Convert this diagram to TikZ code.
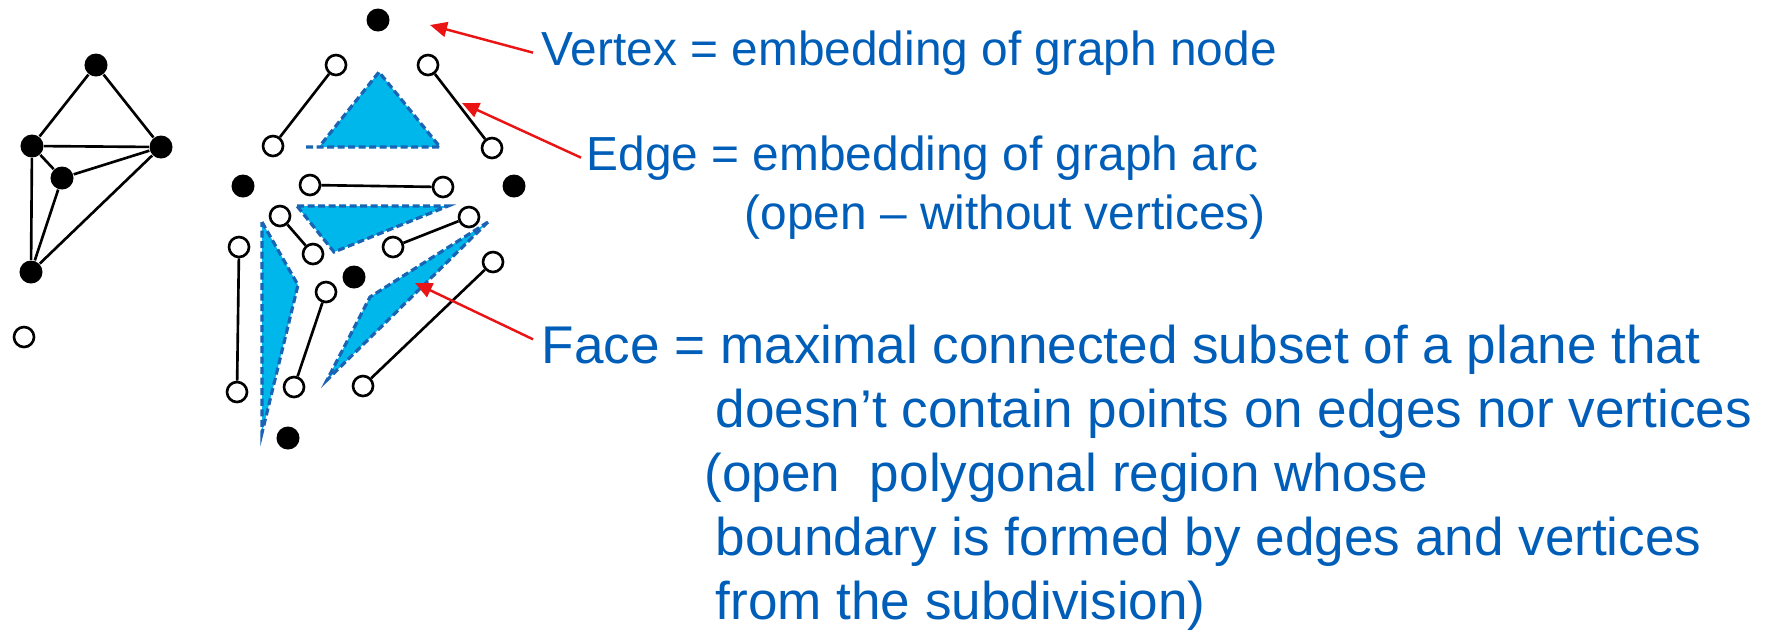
\documentclass[tikz,border=0pt]{standalone}
\usepackage{fontspec}
\setmainfont{Liberation Sans}
\usetikzlibrary{arrows.meta,positioning}
\definecolor{txtBlue}{RGB}{0,94,184}
\definecolor{faceCyan}{RGB}{0,183,235}
\definecolor{faceEdge}{RGB}{25,100,180}
\definecolor{ptrRed}{RGB}{235,20,20}

\begin{document}
\begin{tikzpicture}[x=0.01cm,y=-0.01cm,
  vfull/.style={circle,fill=black,inner sep=0pt,minimum size=2.3mm},
  vopen/.style={circle,draw=black,fill=white,line width=0.75pt,inner sep=0pt,minimum size=2.0mm},
  arc/.style={black,line width=0.75pt},
  face/.style={fill=faceCyan,draw=faceEdge,line width=0.9pt,dash pattern=on 0.7mm off 0.35mm},
  ptr/.style={-{Triangle[length=1.7mm,width=1.5mm]},ptrRed,line width=0.7pt},
  lblS/.style={text=txtBlue,font=\fontsize{13.6}{16.8}\selectfont,inner sep=0pt,anchor=base west},
  lblL/.style={text=txtBlue,font=\fontsize{15.1}{18.2}\selectfont,inner sep=0pt,anchor=base west}]
  \useasboundingbox (0,0) rectangle (1774,629);

  % planar graph
  \node[vfull] (gt) at (96,65) {};
  \node[vfull] (gl) at (32,146) {};
  \node[vfull] (gr) at (161,147) {};
  \node[vfull] (gm) at (62,178) {};
  \node[vfull] (gb) at (31,272) {};
  \node[vopen] (go) at (24,337) {};
  \draw[arc] (gt) -- (gl) (gt) -- (gr) (gl) -- (gr) (gl) -- (gm) (gm) -- (gr)
             (gl) -- (gb) (gm) -- (gb) (gr) -- (gb);

  % faces
  \fill[faceCyan] (319,147) -- (379,72) -- (440,147) -- cycle;
  \draw[face,fill=none] (306,147) -- (440,147) -- (379,72) -- (319,147);
  \filldraw[face] (297,206) -- (448,206) -- (334,252) -- cycle;
  \filldraw[face] (262,222) -- (298,285) -- (262,433) -- cycle;
  \filldraw[face] (488,222) -- (370,297) -- (327,380) -- cycle;

  % vertices of the subdivision
  \node[vfull] (s1) at (378,20) {};
  \node[vfull] (s2) at (243,186) {};
  \node[vfull] (s3) at (514,186) {};
  \node[vfull] (s4) at (354,277) {};
  \node[vfull] (s5) at (288,438) {};

  % open edges
  \node[vopen] (e1a) at (336,65) {};  \node[vopen] (e1b) at (273,146) {};
  \node[vopen] (e2a) at (428,65) {};  \node[vopen] (e2b) at (492,148) {};
  \node[vopen] (e3a) at (310,185) {}; \node[vopen] (e3b) at (443,187) {};
  \node[vopen] (e4a) at (280,216) {}; \node[vopen] (e4b) at (313,254) {};
  \node[vopen] (e5a) at (469,217) {}; \node[vopen] (e5b) at (393,247) {};
  \node[vopen] (e6a) at (239,247) {}; \node[vopen] (e6b) at (237,392) {};
  \node[vopen] (e7a) at (326,292) {}; \node[vopen] (e7b) at (294,387) {};
  \node[vopen] (e8a) at (493,262) {}; \node[vopen] (e8b) at (363,386) {};
  \foreach \e in {e1,e2,e3,e4,e5,e6,e7,e8}
    \draw[arc] (\e a) -- (\e b);

  % labels
  \node[lblS] (vtx) at (541,65) {Vertex = embedding of graph node};
  \node[lblS] (edge) at (586,170) {Edge = embedding of graph arc};
  \node[lblS] (edgeb) at (744,229) {(open – without vertices)};
  \node[lblL] (face) at (541,363) {Face = maximal connected subset of a plane that};
  \node[lblL] (face2) at (715,427) {doesn’t contain points on edges nor vertices};
  \node[lblL] (face3) at (704,491) {(open~ polygonal region whose};
  \node[lblL] (face4) at (715,555) {boundary is formed by edges and vertices};
  \node[lblL] (face5) at (715,619) {from the subdivision)};

  % pointers
  \coordinate (vtip) at (430,25);
  \coordinate (etip) at (462,103);
  \coordinate (ftip) at (415,283);
  \draw[ptr] ([xshift=-0.8mm]vtx.west) -- (vtip);
  \draw[ptr] ([xshift=-0.5mm]edge.west) -- (etip);
  \draw[ptr] ([xshift=-0.8mm,yshift=1mm]face.west) -- (ftip);
\end{tikzpicture}
\end{document}
